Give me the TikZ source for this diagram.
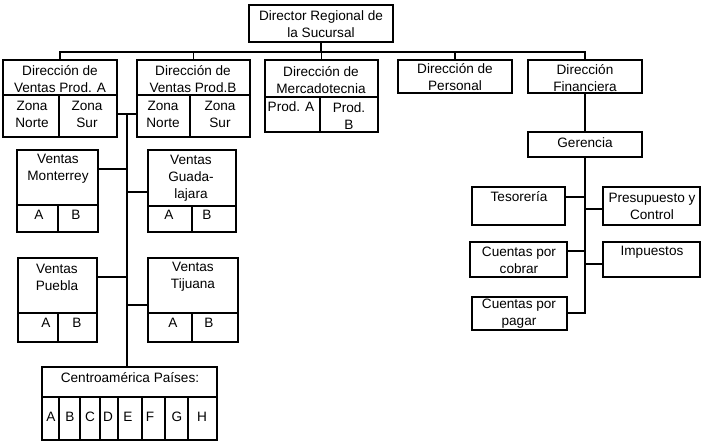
\documentclass[tikz,border=0pt]{standalone}
\usepackage{fontspec}
\setmainfont{Liberation Sans}
\usetikzlibrary{fit}
% a drawn rectangular cell spanning two corner points
\newcommand\boxcell[5]{\node[box,fit={(#2,#3) (#4,#5)}] (#1) {};}
\begin{document}
\begin{tikzpicture}[x=1pt,y=-1pt,
  box/.style={draw,line width=1.9pt,inner sep=0pt,outer sep=0pt},
  lbl/.style={inner sep=0pt,align=center,font=\fontsize{13.6}{17}\selectfont},
  wire/.style={line width=1.9pt,line join=miter}]
\useasboundingbox (0,0) rectangle (704,442);

% ---- top level
\boxcell{dir}{249}{5}{393}{42}
\node[lbl] (dirT) at (321,24) {Director Regional de\\la Sucursal};

% ---- second level
\boxcell{aTop}{3}{60}{117}{95}
\boxcell{aN}{3}{95}{59}{137}
\boxcell{aS}{59}{95}{117}{137}
\boxcell{bTop}{137}{60}{250}{95}
\boxcell{bN}{137}{95}{190}{137}
\boxcell{bS}{190}{95}{250}{137}
\boxcell{mTop}{265}{60}{378}{97}
\boxcell{mA}{265}{97}{320}{132}
\boxcell{mB}{320}{97}{378}{132}
\boxcell{per}{398}{60}{512}{93}
\boxcell{fin}{528}{60}{642}{93}

\node[lbl] (aTopT) at (60,79) {Dirección de\\Ventas Prod. A};
\node[lbl] (aNT) at (32,114) {Zona\\Norte};
\node[lbl] (aST) at (87,114) {Zona\\Sur};
\node[lbl] (bTopT) at (193,79) {Dirección de\\Ventas Prod.B};
\node[lbl] (bNT) at (163,114) {Zona\\Norte};
\node[lbl] (bST) at (220,114) {Zona\\Sur};
\node[lbl] (mTopT) at (321,80) {Dirección de\\Mercadotecnia};
\node[lbl] (mAT) at (291,107) {Prod. A};
\node[lbl] (mBT) at (349,116) {Prod.\\B};
\node[lbl] (perT) at (455,77) {Dirección de\\Personal};
\node[lbl] (finT) at (585,78) {Dirección\\Financiera};

% ---- bus under the director
\coordinate (bus) at (0,52);
\draw[wire] (dir.south) -- (dir.south |- bus);
\draw[wire] (aTop.north) |- (fin.north |- bus) -- (fin.north);
\draw[wire] (bTop.north) -- (bTop.north |- bus);
\draw[wire] (mTop.north) -- (mTop.north |- bus);
\draw[wire] (per.north) -- (per.north |- bus);

% ---- regional sales branch
\boxcell{montT}{17}{150}{98}{205}
\boxcell{montA}{17}{205}{58}{232}
\boxcell{montB}{58}{205}{98}{232}
\boxcell{guaT}{148}{150}{236}{206}
\boxcell{guaA}{148}{206}{192}{232}
\boxcell{guaB}{192}{206}{236}{232}
\boxcell{pueT}{18}{258}{97}{313}
\boxcell{pueA}{18}{313}{58}{342}
\boxcell{pueB}{58}{313}{97}{342}
\boxcell{tijT}{148}{258}{238}{313}
\boxcell{tijA}{148}{313}{192}{342}
\boxcell{tijB}{192}{313}{238}{342}
\boxcell{caT}{42}{367}{217}{397}
\boxcell{ca1}{42}{397}{59}{440}
\boxcell{ca2}{59}{397}{80}{440}
\boxcell{ca3}{80}{397}{100}{440}
\boxcell{ca4}{100}{397}{118}{440}
\boxcell{ca5}{118}{397}{142}{440}
\boxcell{ca6}{142}{397}{165}{440}
\boxcell{ca7}{165}{397}{188}{440}
\boxcell{ca8}{188}{397}{217}{440}

\node[lbl] (montTT) at (58,169) {Ventas\\Monterrey};
\node[lbl] (montAT) at (39,215) {A};
\node[lbl] (montBT) at (76,215) {B};
\node[lbl] (guaTT) at (191,178) {Ventas\\Guada-\\lajara};
\node[lbl] (guaAT) at (169,215) {A};
\node[lbl] (guaBT) at (207,215) {B};
\node[lbl] (pueTT) at (57,277) {Ventas\\Puebla};
\node[lbl] (pueAT) at (46,323) {A};
\node[lbl] (pueBT) at (77,323) {B};
\node[lbl] (tijTT) at (193,277) {Ventas\\Tijuana};
\node[lbl] (tijAT) at (173,323) {A};
\node[lbl] (tijBT) at (209,323) {B};
\node[lbl] (caTT) at (130,378) {Centroamérica Países:};
\node[lbl] (ca1T) at (51,417) {A};
\node[lbl] (ca2T) at (70,417) {B};
\node[lbl] (ca3T) at (90,417) {C};
\node[lbl] (ca4T) at (108,417) {D};
\node[lbl] (ca5T) at (128,417) {E};
\node[lbl] (ca6T) at (150,417) {F};
\node[lbl] (ca7T) at (177,417) {G};
\node[lbl] (ca8T) at (202,417) {H};

\coordinate (lnk) at (127,114);
\coordinate (yMo) at (0,169);
\coordinate (yGu) at (0,192);
\coordinate (yPu) at (0,277);
\coordinate (yTi) at (0,305);
\draw[wire] (aS.east |- lnk) -- (bN.west |- lnk);
\draw[wire] (lnk) -- (lnk |- caT.north);
\draw[wire] (montT.east |- yMo) -- (lnk |- yMo);
\draw[wire] (lnk |- yGu) -- (guaT.west |- yGu);
\draw[wire] (pueT.east |- yPu) -- (lnk |- yPu);
\draw[wire] (lnk |- yTi) -- (tijT.west |- yTi);

% ---- finance branch
\boxcell{ger}{528}{132}{642}{157}
\boxcell{tes}{472}{187}{565}{225}
\boxcell{pre}{603}{187}{700}{225}
\boxcell{cob}{470}{242}{567}{277}
\boxcell{imp}{603}{242}{700}{277}
\boxcell{pag}{472}{297}{567}{330}

\node[lbl] (gerT) at (585,143) {Gerencia};
\node[lbl] (tesT) at (519,197) {Tesorería};
\node[lbl] (preT) at (652,206) {Presupuesto y\\Control};
\node[lbl] (cobT) at (519,260) {Cuentas por\\cobrar};
\node[lbl] (impT) at (652,252) {Impuestos};
\node[lbl] (pagT) at (519,314) {Cuentas por\\pagar};

\coordinate (yTe) at (0,197);
\coordinate (yPr) at (0,209);
\coordinate (yCo) at (0,251);
\coordinate (yIm) at (0,264);
\coordinate (yPa) at (0,313);
\draw[wire] (fin.south) -- (ger.north);
\draw[wire] (ger.south) |- (pag.east |- yPa);
\draw[wire] (tes.east |- yTe) -- (ger.south |- yTe);
\draw[wire] (ger.south |- yPr) -- (pre.west |- yPr);
\draw[wire] (cob.east |- yCo) -- (ger.south |- yCo);
\draw[wire] (ger.south |- yIm) -- (imp.west |- yIm);
\end{tikzpicture}
\end{document}
